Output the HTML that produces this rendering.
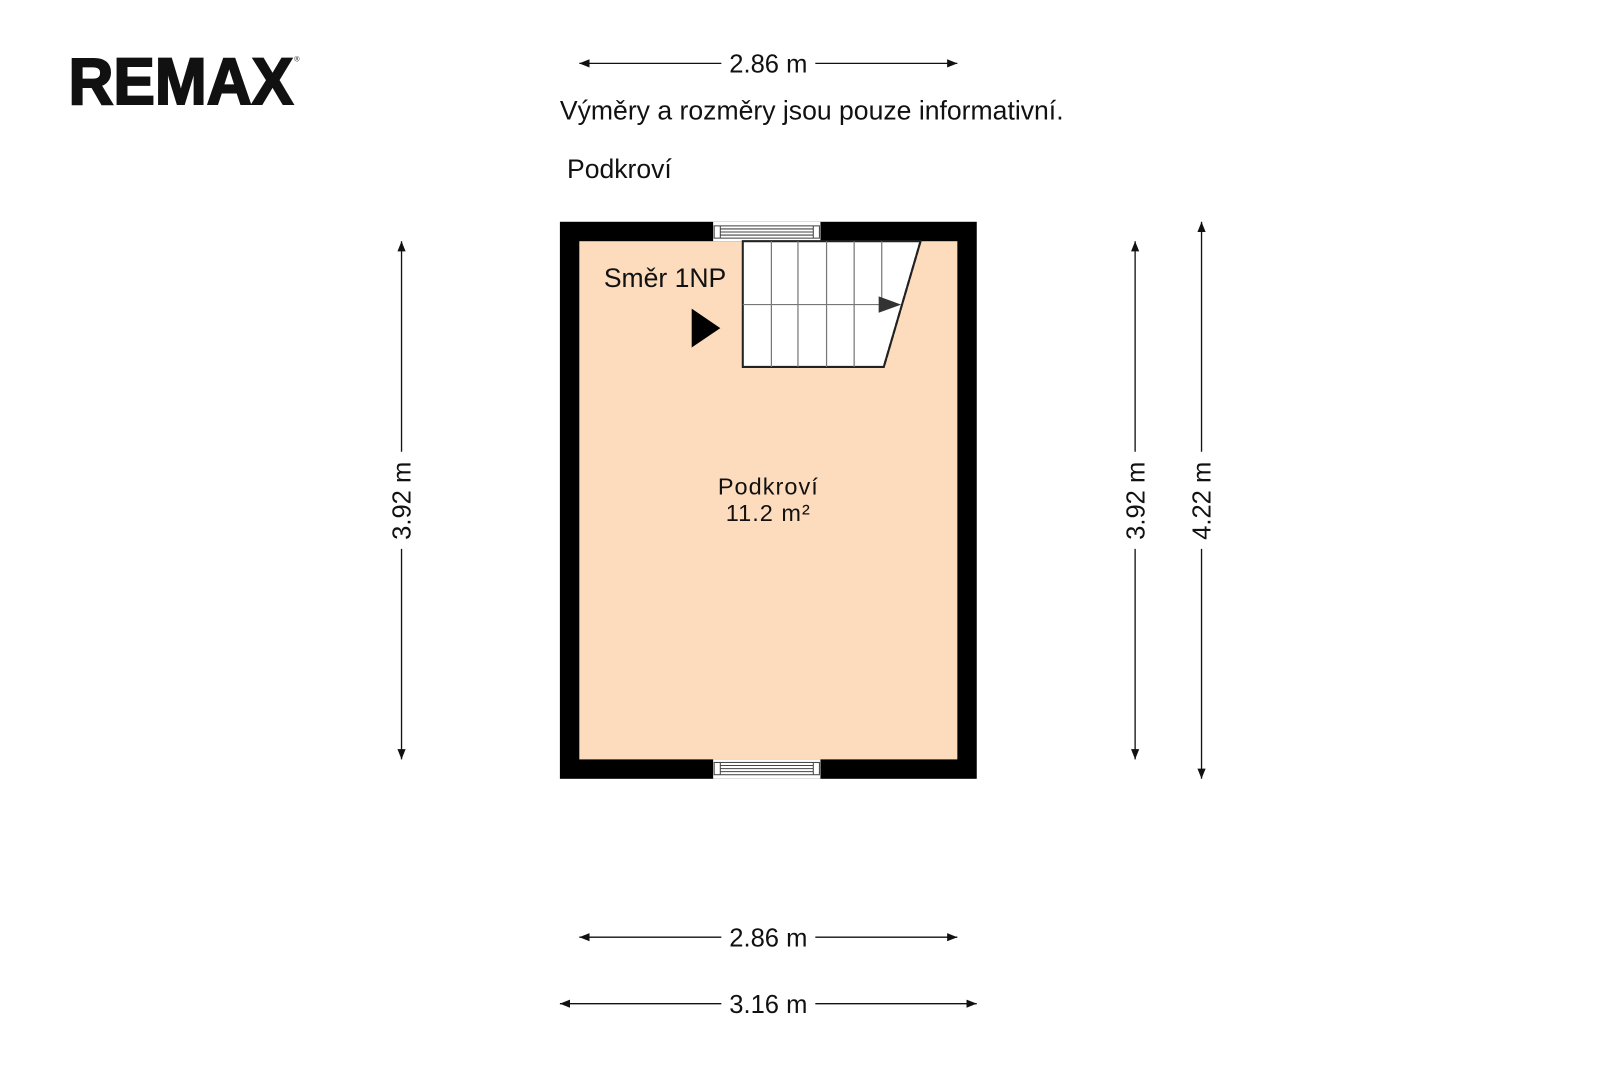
<!DOCTYPE html>
<html><head><meta charset="utf-8"><style>
body{margin:0;background:#fff}
svg{display:block}
text{font-family:"Liberation Sans",sans-serif;fill:#111}
</style></head><body>
<svg width="1600" height="1066" viewBox="0 0 1566 1043" preserveAspectRatio="none" xmlns="http://www.w3.org/2000/svg">
<defs>
<marker id="a" viewBox="0 0 10 10" refX="10" refY="5" markerWidth="10" markerHeight="10" markerUnits="userSpaceOnUse" orient="auto-start-reverse"><path d="M0,1 L10,5 L0,9 z" fill="#111"/></marker>
</defs>
<!-- logo -->
<text x="67" y="102" font-size="64" font-weight="bold" stroke="#111" stroke-width="2" textLength="220" lengthAdjust="spacingAndGlyphs">REMAX</text>
<text x="288" y="60" font-size="7">®</text>
<!-- header text -->
<text x="548" y="117" font-size="26" textLength="493" lengthAdjust="spacingAndGlyphs">Výměry a rozměry jsou pouze informativní.</text>
<text x="555" y="174" font-size="26">Podkroví</text>
<!-- room -->
<rect x="548" y="217" width="408" height="545" fill="#000"/>
<rect x="567" y="236" width="370" height="507" fill="#fddcbd"/>
<!-- windows -->
<g>
<rect x="698" y="217" width="105" height="19" fill="#fff"/>
<rect x="699" y="221" width="103" height="12" fill="none" stroke="#444" stroke-width="1"/>
<line x1="705" y1="224" x2="796" y2="224" stroke="#444"/>
<line x1="705" y1="227" x2="796" y2="227" stroke="#444"/>
<line x1="705" y1="230" x2="796" y2="230" stroke="#444"/>
<line x1="705" y1="221" x2="705" y2="233" stroke="#444"/>
<line x1="796" y1="221" x2="796" y2="233" stroke="#444"/>
</g>
<g>
<rect x="698" y="743" width="105" height="19" fill="#fff"/>
<rect x="699" y="746" width="103" height="12" fill="none" stroke="#444" stroke-width="1"/>
<line x1="705" y1="749" x2="796" y2="749" stroke="#444"/>
<line x1="705" y1="752" x2="796" y2="752" stroke="#444"/>
<line x1="705" y1="755" x2="796" y2="755" stroke="#444"/>
<line x1="705" y1="746" x2="705" y2="758" stroke="#444"/>
<line x1="796" y1="746" x2="796" y2="758" stroke="#444"/>
</g>
<!-- stairs -->
<polygon points="727,236 901,236 865,359 727,359" fill="#fff" stroke="#222" stroke-width="2"/>
<g stroke="#777" stroke-width="1.2">
<line x1="755" y1="236" x2="755" y2="359"/>
<line x1="781" y1="236" x2="781" y2="359"/>
<line x1="809" y1="236" x2="809" y2="359"/>
<line x1="836" y1="236" x2="836" y2="359"/>
<line x1="863" y1="236" x2="863" y2="298"/>
<line x1="727" y1="298" x2="862" y2="298"/>
</g>
<polygon points="860,290 882,298 860,306" fill="#333"/>
<line x1="901" y1="236" x2="865" y2="359" stroke="#222" stroke-width="2" stroke-dasharray="6,2"/>
<text x="591" y="281" font-size="26">Směr 1NP</text>
<polygon points="677,302 705,321 677,340" fill="#000"/>
<text x="752" y="484" font-size="23" text-anchor="middle" style="letter-spacing:1px">Podkroví</text>
<text x="752" y="510" font-size="23" text-anchor="middle" style="letter-spacing:1px">11.2 m²</text>
<!-- dimensions -->
<g stroke="#111" stroke-width="1.3" fill="none">
<line x1="567" y1="62" x2="706" y2="62" marker-start="url(#a)"/>
<line x1="798" y1="62" x2="937" y2="62" marker-end="url(#a)"/>
<line x1="567" y1="917" x2="706" y2="917" marker-start="url(#a)"/>
<line x1="798" y1="917" x2="937" y2="917" marker-end="url(#a)"/>
<line x1="548" y1="982" x2="706" y2="982" marker-start="url(#a)"/>
<line x1="798" y1="982" x2="956" y2="982" marker-end="url(#a)"/>
<line x1="393" y1="236" x2="393" y2="442" marker-start="url(#a)"/>
<line x1="393" y1="537" x2="393" y2="743" marker-end="url(#a)"/>
<line x1="1111" y1="236" x2="1111" y2="442" marker-start="url(#a)"/>
<line x1="1111" y1="537" x2="1111" y2="743" marker-end="url(#a)"/>
<line x1="1176" y1="217" x2="1176" y2="442" marker-start="url(#a)"/>
<line x1="1176" y1="537" x2="1176" y2="762" marker-end="url(#a)"/>
</g>
<text x="752" y="71" font-size="25" text-anchor="middle">2.86 m</text>
<text x="752" y="926" font-size="25" text-anchor="middle">2.86 m</text>
<text x="752" y="991" font-size="25" text-anchor="middle">3.16 m</text>
<text transform="translate(402,490) rotate(-90)" font-size="25" text-anchor="middle">3.92 m</text>
<text transform="translate(1120,490) rotate(-90)" font-size="25" text-anchor="middle">3.92 m</text>
<text transform="translate(1185,490) rotate(-90)" font-size="25" text-anchor="middle">4.22 m</text>
</svg>
</body></html>
